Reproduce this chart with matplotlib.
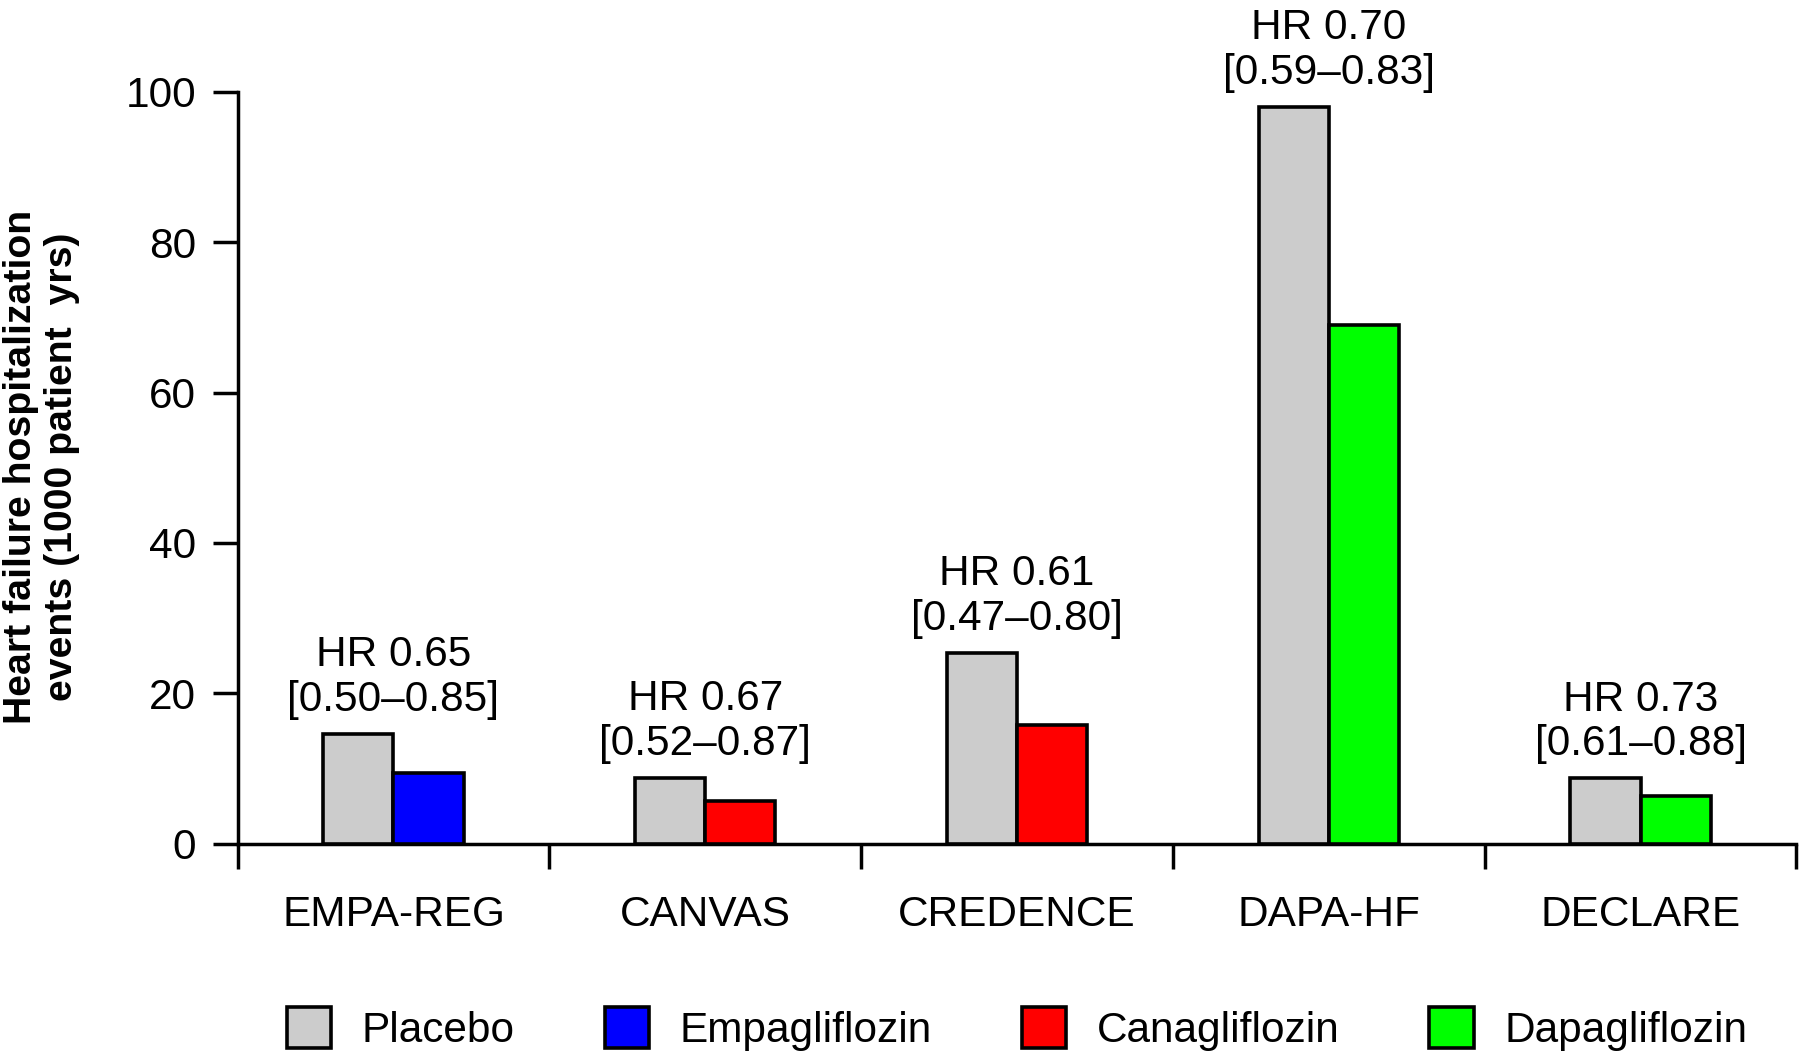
import matplotlib.pyplot as plt
import numpy as np
from matplotlib.patches import Patch

plt.rcParams['font.family'] = ['Liberation Sans', 'DejaVu Sans']

trials = ["EMPA-REG", "CANVAS", "CREDENCE", "DAPA-HF", "DECLARE"]
placebo = [14.6, 8.8, 25.4, 98.0, 8.7]
drug = [9.4, 5.7, 15.8, 69.0, 6.3]
drug_names = ["Empagliflozin", "Canagliflozin", "Canagliflozin", "Dapagliflozin", "Dapagliflozin"]
hr_labels = ["HR 0.65\n[0.50\u20130.85]", "HR 0.67\n[0.52\u20130.87]", "HR 0.61\n[0.47\u20130.80]",
             "HR 0.70\n[0.59\u20130.83]", "HR 0.73\n[0.61\u20130.88]"]
legend_names = ["Placebo", "Empagliflozin", "Canagliflozin", "Dapagliflozin"]

COLS = {"Placebo": "#cccccc", "Empagliflozin": "#0000ff",
        "Canagliflozin": "#ff0000", "Dapagliflozin": "#00ff00"}

fig = plt.figure(figsize=(18, 10.56), dpi=100)
ax = fig.add_axes([0.132, 0.201, 0.866, 0.712])

x = np.arange(len(trials)) + 0.5
w = 0.225
lw = 2.6
fs = 30.5

ax.bar(x - w / 2, placebo, w, color=COLS["Placebo"], edgecolor="black", linewidth=lw, zorder=3)
ax.bar(x + w / 2, drug, w, color=[COLS[d] for d in drug_names], edgecolor="black", linewidth=lw, zorder=3)

for xi, p, lab in zip(x, placebo, hr_labels):
	ax.annotate(lab, (xi, p), xytext=(0, 10), textcoords="offset points",
	            ha="center", va="bottom", fontsize=fs, linespacing=1.15, annotation_clip=False)

ax.set_xlim(0, len(trials))
ax.set_ylim(0, 100)
ax.set_yticks(range(0, 101, 20))
ax.set_xticks(range(0, len(trials) + 1))
ax.set_xticklabels([])
ax.set_xticks(x, minor=True)
ax.set_xticklabels(trials, minor=True)

for s in ["top", "right"]:
	ax.spines[s].set_visible(False)
for s in ["left", "bottom"]:
	ax.spines[s].set_linewidth(2.5)
ax.spines["left"].set_bounds(0, 100)

ax.tick_params(axis="both", which="major", direction="out", length=18, width=2.5, labelsize=fs, pad=12)
ax.tick_params(axis="x", which="minor", length=0, labelsize=fs, pad=37)

fig.text(0.023, 0.558, "Heart failure hospitalization\nevents (1000 patient  yrs)",
         rotation=90, ha="center", va="center", fontsize=28.3, fontweight="bold",
         multialignment="center", linespacing=1.2)

handles = [Patch(facecolor=COLS[n], edgecolor="black", linewidth=lw) for n in legend_names]
fig.legend(handles, legend_names, loc="center", bbox_to_anchor=(0.565, 0.026), ncol=4,
           frameon=False, fontsize=fs, handlelength=1.05, handleheight=1.12,
           handletextpad=0.72, columnspacing=2.12, borderaxespad=0)

plt.savefig("out.png", dpi=100)
